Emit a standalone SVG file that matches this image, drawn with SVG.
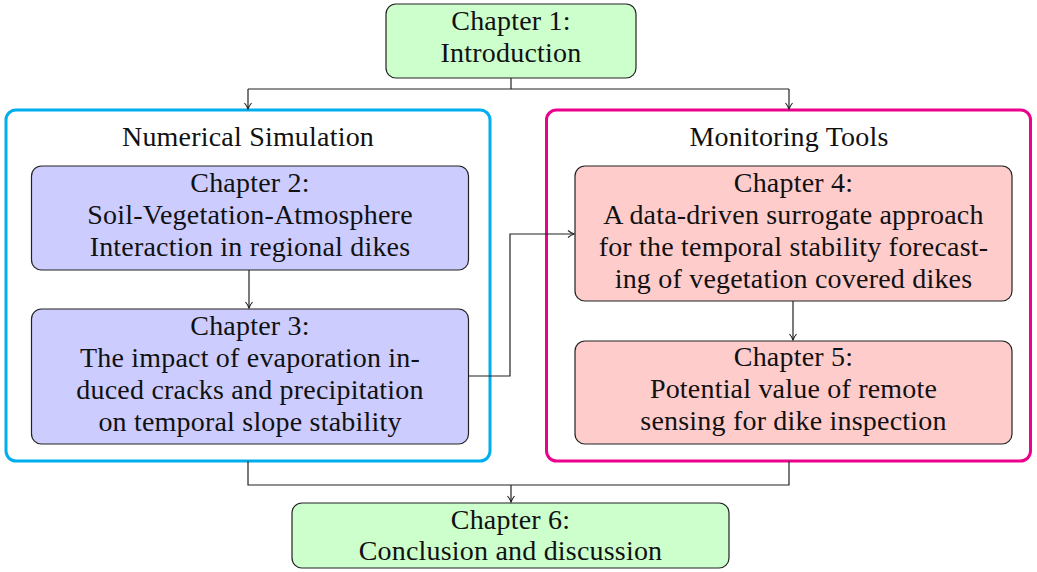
<svg xmlns="http://www.w3.org/2000/svg" width="1037" height="572" viewBox="0 0 1037 572">
<defs>
<style>
text{font-family:"Liberation Serif","DejaVu Serif",serif;font-size:28px;fill:#111;text-anchor:middle;letter-spacing:0.2px}
.green{fill:#ccffcc;stroke:#222;stroke-width:1.2}
.blue{fill:#ccccff;stroke:#222;stroke-width:1.2}
.red{fill:#ffcccc;stroke:#222;stroke-width:1.2}
.cont{fill:none;stroke-width:3}
.conn path{fill:none;stroke:#222;stroke-width:1.2}
</style>
<marker id="arr" markerWidth="10" markerHeight="10" refX="8" refY="5" orient="auto" markerUnits="userSpaceOnUse">
<path d="M2,1.5 Q5,4 8,5 Q5,6 2,8.5" fill="none" stroke="#222" stroke-width="1.1"/>
</marker>
</defs>
<g id="container-numerical">
<rect class="cont" x="6" y="110" width="484" height="351" rx="10" stroke="#00aeef"/>
<text x="248" y="146">Numerical Simulation</text>
</g>
<g id="container-monitoring">
<rect class="cont" x="546.5" y="110" width="484" height="351" rx="10" stroke="#ec008c"/>
<text x="789" y="146">Monitoring Tools</text>
</g>
<g id="ch1">
<rect class="green" x="386" y="4" width="250" height="74" rx="10"/>
<text x="511" y="30">Chapter 1:</text>
<text x="511" y="62">Introduction</text>
</g>
<g id="ch2">
<rect class="blue" x="31.5" y="166" width="437" height="104" rx="10"/>
<text x="250" y="192">Chapter 2:</text>
<text x="250" y="224">Soil-Vegetation-Atmosphere</text>
<text x="250" y="256">Interaction in regional dikes</text>
</g>
<g id="ch3">
<rect class="blue" x="31.5" y="309" width="437" height="135" rx="10"/>
<text x="250" y="335">Chapter 3:</text>
<text x="250" y="367">The impact of evaporation in-</text>
<text x="250" y="399">duced cracks and precipitation</text>
<text x="250" y="431">on temporal slope stability</text>
</g>
<g id="ch4">
<rect class="red" x="575" y="166" width="437" height="135" rx="10"/>
<text x="793.5" y="192">Chapter 4:</text>
<text x="793.5" y="224">A data-driven surrogate approach</text>
<text x="793.5" y="256">for the temporal stability forecast-</text>
<text x="793.5" y="288">ing of vegetation covered dikes</text>
</g>
<g id="ch5">
<rect class="red" x="575" y="341" width="437" height="103" rx="10"/>
<text x="793.5" y="366">Chapter 5:</text>
<text x="793.5" y="398">Potential value of remote</text>
<text x="793.5" y="430">sensing for dike inspection</text>
</g>
<g id="ch6">
<rect class="green" x="292" y="503" width="437" height="65" rx="10"/>
<text x="510.5" y="529">Chapter 6:</text>
<text x="510.5" y="560">Conclusion and discussion</text>
</g>
<g class="conn" id="connectors">
<path d="M511,78 V89 M248,89 H789"/>
<path d="M248,89 V109" marker-end="url(#arr)"/>
<path d="M789,89 V109" marker-end="url(#arr)"/>
<path d="M249,270 V308" marker-end="url(#arr)"/>
<path d="M793,301 V340" marker-end="url(#arr)"/>
<path d="M468.5,376 H510 V234 H574" marker-end="url(#arr)"/>
<path d="M248,461 V485 H789 V461 M511,485 V502" marker-end="url(#arr)"/>
</g>
</svg>
